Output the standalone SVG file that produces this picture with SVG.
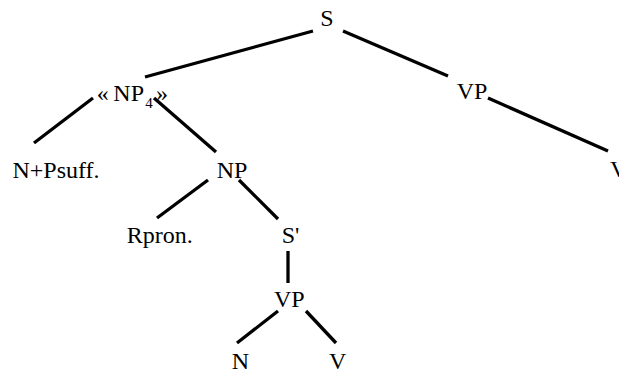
<svg xmlns="http://www.w3.org/2000/svg" width="619" height="369" viewBox="0 0 619 369">
<style>
.t{font-family:"Liberation Serif","Times New Roman",serif;font-size:24px;fill:#000}
.e line{stroke:#000;stroke-width:3.3}
</style>
<rect width="619" height="369" fill="#fff"/>
<g id="connectors" class="e">
<line x1="313" y1="31" x2="145" y2="77"/>
<line x1="343" y1="31" x2="448" y2="76"/>
<line x1="93" y1="98" x2="34" y2="143"/>
<line x1="154" y1="98" x2="216" y2="152"/>
<line x1="488" y1="98" x2="608" y2="151"/>
<line x1="208" y1="180" x2="157" y2="218"/>
<line x1="239" y1="180" x2="278" y2="219"/>
<line x1="288" y1="251" x2="288" y2="283"/>
<line x1="278" y1="311" x2="237" y2="343"/>
<line x1="306" y1="311" x2="336" y2="343"/>
</g>
<g id="S"><text class="t" x="327" y="26" text-anchor="middle">S</text></g>
<g id="NP4"><text class="t" y="100.5"><tspan x="96.7">«</tspan><tspan x="113.3">NP</tspan><tspan x="145.3" y="108.3" font-size="15">4</tspan><tspan x="156" y="100.5">»</tspan></text></g>
<g id="VP1"><text class="t" x="456.7" y="99.3">VP</text></g>
<g id="NPsuff"><text class="t" x="12.5" y="177.5">N+Psuff.</text></g>
<g id="NP"><text class="t" x="216.7" y="178.3">NP</text></g>
<g id="V1"><text class="t" x="610" y="177">V</text></g>
<g id="Rpron"><text class="t" x="126.7" y="243.3">Rpron.</text></g>
<g id="Sprime"><text class="t" x="281.7" y="243.3">S'</text></g>
<g id="VP2"><text class="t" x="274" y="306.7">VP</text></g>
<g id="N"><text class="t" x="231.7" y="368.5">N</text></g>
<g id="V2"><text class="t" x="329" y="368.5">V</text></g>
</svg>
